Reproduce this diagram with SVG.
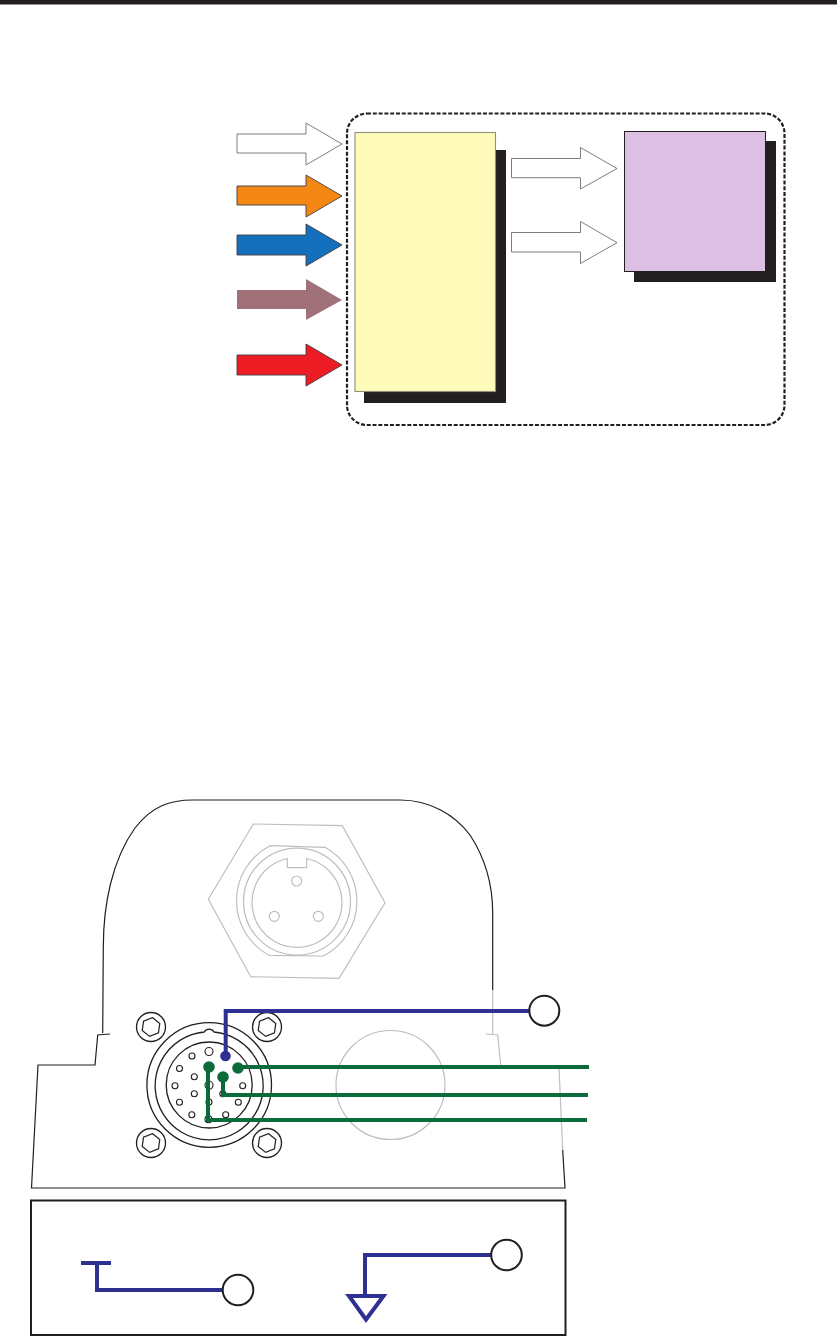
<svg xmlns="http://www.w3.org/2000/svg" width="837" height="1337" viewBox="0 0 837 1337">
<style>
.arrow{stroke:#414042;stroke-width:.9;stroke-linejoin:miter}
.k{fill:none;stroke:#231f20;stroke-width:1.2}
.kt{fill:none;stroke:#231f20;stroke-width:1.3}
.g{fill:none;stroke:#bcbec0;stroke-width:1.2}
.pin{fill:#fff;stroke:#231f20;stroke-width:1.1}
.blue{fill:none;stroke:#2e3192;stroke-width:4}
.green{fill:none;stroke:#0b6b3a;stroke-width:4}
.call{fill:#fff;stroke:#231f20;stroke-width:2}
.shadow{fill:#231f20}
</style>
<defs>
<g id="screw"><circle r="14.5" class="kt"/><polygon points="0,-9.500 8.200,-4.750 8.200,4.750 0,9.500 -8.200,4.750 -8.200,-4.750" class="k" transform="rotate(8)"/></g>
</defs>
<rect width="837" height="1337" fill="#fff"/>
<rect id="top-rule" x="0" y="0" width="837" height="4.500" fill="#231f20"/>

<g id="input-arrows">
<polygon id="arrow-white" class="arrow" fill="#fff" stroke-opacity=".75" points="237,134 306,134 306,123 342,144 306,165 306,153 237,153"/>
<polygon id="arrow-orange" class="arrow" fill="#f58814" points="237,186 306,186 306,175 342,196 306,217 306,205 237,205"/>
<polygon id="arrow-blue" class="arrow" fill="#146fbd" points="237,235 306,235 306,224 342,245 306,266 306,255 237,255"/>
<polygon id="arrow-mauve" fill="#a07178" points="237,290 306,290 306,279 342,300 306,320 306,309 237,309"/>
<polygon id="arrow-red" class="arrow" fill="#ed1c24" points="237,355 306,355 306,344 342,365 306,386 306,375 237,375"/>
</g>

<rect id="enclosure" x="347" y="113.500" width="437.500" height="311.500" rx="20" ry="20" fill="none" stroke="#231f20" stroke-width="2.200" stroke-dasharray="4 1.800"/>

<g id="node-yellow">
<rect class="shadow" x="364" y="150" width="142" height="253"/>
<rect x="355" y="132.500" width="140.500" height="259" fill="#fffbbb" stroke="#8f8f7c" stroke-width="1.100"/>
</g>
<g id="node-purple">
<rect class="shadow" x="634" y="141" width="142" height="141"/>
<rect x="624.500" y="131.500" width="141" height="140" fill="#ddbfe3" stroke="#231f20" stroke-width="1"/>
</g>
<g id="output-arrows">
<polygon class="arrow" fill="#fff" stroke-opacity=".75" points="511.500,158.500 580.500,158.500 580.500,147.500 617,168.500 580.500,189 580.500,177.700 511.500,177.700"/>
<polygon class="arrow" fill="#fff" stroke-opacity=".75" points="511.500,232.500 580.500,232.500 580.500,221.500 617,242.700 580.500,263.500 580.500,252 511.500,252"/>
</g>

<g id="panel-outline">
<path class="k" d="M110,1034 L97.700,1035 L95,1065 L38,1065 L31.500,1188 L565,1188 L562.700,1150"/>
<path class="k" d="M102.700,1033 L103.300,947 C103.300,905 112,860 135,828 C152,806 170,800 193,800 L400,800 C430,800 455,815 470,835 C485,858 492.700,885 492.700,913 L492.700,990"/>
<path class="g" d="M492.700,990 L492.700,1034 M485.700,1034 L497.700,1035 L500.700,1065 M559,1068 L562.700,1150"/>
</g>

<g id="xlr-connector">
<polygon class="g" points="253.300,824 342.300,825.700 385,902.700 339,978.300 250.700,976.700 208.300,899.300"/>
<path class="g" d="M270,845.700 A62,62 0 0 0 269,955.300 L323.300,956 A61.500,61.500 0 0 0 325,847.300 Z"/>
<circle class="g" cx="297" cy="901.600" r="53.500"/>
<path class="g" d="M287.300,858.500 L287.300,867.700 L306.700,867.700 L306.700,858.500 A45,45 0 1 1 287.300,858.500 Z"/>
<circle class="g" cx="296.700" cy="881" r="5"/>
<circle class="g" cx="274.300" cy="916.300" r="5"/>
<circle class="g" cx="318.300" cy="916.300" r="5"/>
</g>

<circle id="blank-port" class="g" cx="390.500" cy="1085" r="54.500"/>

<g id="multipin-connector">
<use href="#screw" x="151" y="1027"/>
<use href="#screw" x="267" y="1027"/>
<use href="#screw" x="151" y="1143"/>
<use href="#screw" x="267" y="1143"/>
<circle class="kt" cx="209.200" cy="1085" r="62.300"/>
<path class="kt" d="M204.300,1032 A54,54 0 1 0 214,1032 A5.500,5.500 0 0 0 204.300,1032 Z"/>
<circle class="kt" cx="209.200" cy="1085" r="43"/>
<circle class="pin" cx="209" cy="1051.500" r="4"/>
<circle class="pin" cx="192" cy="1056" r="3"/>
<circle class="pin" cx="179.500" cy="1068.500" r="3"/>
<circle class="pin" cx="194.300" cy="1076.700" r="3"/>
<circle class="pin" cx="175" cy="1085.700" r="3"/>
<circle class="pin" cx="209" cy="1085.300" r="4"/>
<circle class="pin" cx="194.300" cy="1093.700" r="3"/>
<circle class="pin" cx="179.500" cy="1102.300" r="3"/>
<circle class="pin" cx="191.800" cy="1114.700" r="3"/>
<circle class="pin" cx="208.500" cy="1119.300" r="3.500"/>
<circle class="pin" cx="225.700" cy="1114.700" r="3"/>
<circle class="pin" cx="238.300" cy="1102.300" r="3"/>
<circle class="pin" cx="242.700" cy="1085.700" r="3"/>
<circle class="pin" cx="209" cy="1102" r="3"/>
<circle class="pin" cx="222.800" cy="1093.700" r="3"/>
</g>

<g id="connectors">
<path class="blue" d="M225.700,1056 L225.700,1011 L530,1011"/>
<circle cx="225.500" cy="1056" r="5.300" fill="#2e3192"/>
<path class="green" d="M238,1067 L589,1067"/>
<circle cx="238" cy="1068" r="5.800" fill="#0b6b3a"/>
<path class="green" d="M223,1077 L223,1095 L588,1095"/>
<circle cx="223" cy="1077" r="5.800" fill="#0b6b3a"/>
<path class="green" d="M208,1067 L208,1120 L587,1120"/>
<circle cx="209" cy="1067" r="5.800" fill="#0b6b3a"/>
</g>
<circle id="callout-top" class="call" cx="544.300" cy="1010.700" r="15"/>

<rect id="legend" x="31" y="1200.500" width="534.500" height="134.500" fill="none" stroke="#231f20" stroke-width="2"/>
<g id="legend-connectors">
<path class="blue" d="M81,1263 L111,1263 M97,1263 L97,1290 L224,1290"/>
<path class="blue" d="M493,1255 L365,1255 L365,1296"/>
<polygon class="blue" points="349,1296 383.500,1296 366,1319.500"/>
</g>
<circle id="legend-callout-1" class="call" cx="238" cy="1290" r="15.300"/>
<circle id="legend-callout-2" class="call" cx="506.500" cy="1255" r="15.300"/>
</svg>
